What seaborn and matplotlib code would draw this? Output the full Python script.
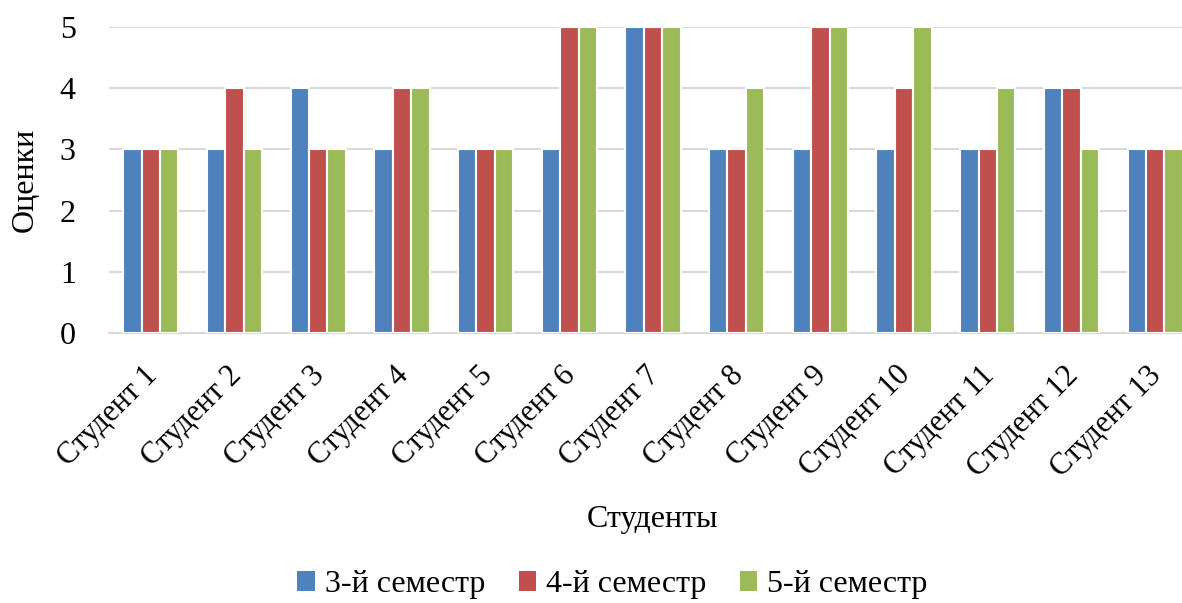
import numpy as np
import pandas as pd
import matplotlib
matplotlib.use("Agg")
import matplotlib.pyplot as plt
import matplotlib.transforms as mtransforms
import seaborn as sns
from matplotlib.patches import Patch

# data
students = [f"Студент {i}" for i in range(1, 14)]
semesters = ["3-й семестр", "4-й семестр", "5-й семестр"]
sem3 = [3, 3, 4, 3, 3, 3, 5, 3, 3, 3, 3, 4, 3]
sem4 = [3, 4, 3, 4, 3, 5, 5, 3, 5, 4, 3, 4, 3]
sem5 = [3, 3, 3, 4, 3, 5, 5, 4, 5, 5, 4, 3, 3]
colors = ["#4F81BD", "#C0504D", "#9BBB59"]

df = pd.DataFrame({
    "student": students * 3,
    "semester": [s for s in semesters for _ in students],
    "grade": sem3 + sem4 + sem5,
})

sns.set_theme(style="white")
plt.rcParams["font.family"] = ["Liberation Serif", "DejaVu Serif"]
plt.rcParams["text.color"] = "black"
plt.rcParams["xtick.color"] = "black"
plt.rcParams["ytick.color"] = "black"
plt.rcParams["axes.labelcolor"] = "black"

fig = plt.figure(figsize=(11.82, 6.03), dpi=100)
ax = fig.add_axes([109 / 1182, 1 - 333 / 603, (1197 - 109) / 1182, (333 - 27) / 603])

sns.barplot(data=df, x="student", y="grade", hue="semester", palette=colors, saturation=1,
            width=0.66, edgecolor="white", linewidth=1.5, ax=ax, legend=False, zorder=3)

ax.set_ylim(0, 5)
ax.set_xlim(-0.5, 12.5)
ax.set_yticks(range(6))
ax.yaxis.grid(True, color="#d9d9d9", linewidth=1.5, zorder=0)
ax.set_axisbelow(True)
for side in ["top", "right", "left"]:
    ax.spines[side].set_visible(False)
ax.spines["bottom"].set_color("#d9d9d9")
ax.spines["bottom"].set_linewidth(1.5)
ax.tick_params(axis="y", length=0, pad=24, labelsize=23)
ax.tick_params(axis="x", length=0, pad=20, labelsize=22)
# shift rotated labels a bit left so their ends sit at the group centre
shift = mtransforms.ScaledTranslation(-8 / 100, 0, fig.dpi_scale_trans)
for lab in ax.get_xticklabels():
    lab.set_rotation(45)
    lab.set_ha("right")
    lab.set_rotation_mode("anchor")
    lab.set_transform(lab.get_transform() + shift)

ax.set_xlabel("Студенты", fontsize=23, labelpad=16)
ax.set_ylabel("Оценки", fontsize=23, labelpad=14)

handles = [Patch(facecolor=c, edgecolor="none") for c in colors]
fig.legend(handles, semesters, loc="center", bbox_to_anchor=(0.518, 0.03), ncol=3,
           frameon=False, fontsize=23, handlelength=0.55, handleheight=0.55,
           handletextpad=0.3, columnspacing=1.05)

plt.savefig("out.png", dpi=100)
